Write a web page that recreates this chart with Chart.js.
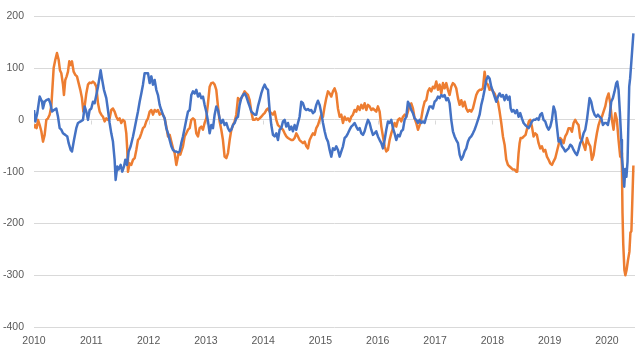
<!DOCTYPE html>
<html>
<head>
<meta charset="utf-8">
<script src="https://cdn.jsdelivr.net/npm/chart.js@4.4.1/dist/chart.umd.min.js"></script>
<style>
    body { margin: 0; background: #ffffff; }
    #chart { display: block; }
</style>
</head>
<body>
<canvas id="chart" width="640" height="360"></canvas>
<script>
// [decimal year, value]
const blueSeries = [
    [2010.000, 19], [2010.023, -3], [2010.058, 13], [2010.099, 45], [2010.140, 35], [2010.157, 22],
    [2010.186, 35], [2010.215, 38], [2010.256, 40], [2010.285, 32], [2010.314, 16], [2010.349, 19],
    [2010.389, 22], [2010.419, 6], [2010.448, -16], [2010.477, -19], [2010.506, -26], [2010.546, -29],
    [2010.581, -32], [2010.605, -45], [2010.640, -58], [2010.663, -61], [2010.698, -39], [2010.738, -16],
    [2010.768, -6], [2010.814, -3], [2010.855, 0], [2010.884, 26], [2010.913, 16], [2010.942, 0],
    [2010.971, 19], [2011.000, 22], [2011.029, 35], [2011.058, 32], [2011.088, 48], [2011.117, 64],
    [2011.146, 84], [2011.163, 96], [2011.186, 80], [2011.221, 58], [2011.262, 42], [2011.291, 19],
    [2011.320, -6], [2011.349, -26], [2011.378, -42], [2011.407, -77], [2011.425, -116], [2011.454, -90],
    [2011.477, -96], [2011.512, -87], [2011.541, -100], [2011.571, -90], [2011.594, -77], [2011.623, -87],
    [2011.652, -61], [2011.687, -51], [2011.728, -32], [2011.757, -16], [2011.786, 0], [2011.815, 16],
    [2011.844, 35], [2011.873, 51], [2011.902, 68], [2011.931, 90], [2011.990, 90], [2012.019, 71],
    [2012.048, 84], [2012.077, 68], [2012.106, 77], [2012.135, 58], [2012.164, 48], [2012.193, 29],
    [2012.222, 19], [2012.251, 10], [2012.280, 3], [2012.309, -16], [2012.339, -26], [2012.368, -39],
    [2012.397, -51], [2012.426, -58], [2012.455, -61], [2012.484, -61], [2012.513, -63], [2012.542, -61],
    [2012.571, -45], [2012.600, -32], [2012.629, -16], [2012.658, 0], [2012.688, 16], [2012.717, 19],
    [2012.746, 48], [2012.775, 55], [2012.804, 51], [2012.833, 58], [2012.862, 45], [2012.891, 51],
    [2012.920, 42], [2012.949, 45], [2012.978, 29], [2013.007, 16], [2013.037, -3], [2013.066, -26],
    [2013.095, -10], [2013.124, -16], [2013.153, 10], [2013.182, 26], [2013.211, 19], [2013.240, 3],
    [2013.269, -6], [2013.298, 0], [2013.327, -10], [2013.357, -6], [2013.386, -16], [2013.415, -22],
    [2013.444, -19], [2013.473, -10], [2013.502, -6], [2013.531, 3], [2013.560, 6], [2013.589, 29],
    [2013.618, 42], [2013.647, 48], [2013.676, 51], [2013.706, 45], [2013.735, 35], [2013.764, 26],
    [2013.793, 16], [2013.822, 13], [2013.851, 10], [2013.880, 10], [2013.909, 26], [2013.938, 38],
    [2013.967, 51], [2013.996, 61], [2014.025, 68], [2014.055, 61], [2014.084, 58], [2014.113, 19],
    [2014.142, -10], [2014.171, -29], [2014.200, -32], [2014.229, -26], [2014.258, -39], [2014.287, -19],
    [2014.316, -16], [2014.346, -3], [2014.375, 0], [2014.404, -13], [2014.433, -6], [2014.462, -19],
    [2014.491, -13], [2014.520, -22], [2014.549, -10], [2014.578, -19], [2014.607, -6], [2014.636, 6],
    [2014.665, 35], [2014.695, 32], [2014.724, 22], [2014.753, 19], [2014.782, 21], [2014.811, 18],
    [2014.840, 19], [2014.869, 13], [2014.898, 16], [2014.927, 29], [2014.956, 37], [2014.985, 29],
    [2015.015, 13], [2015.044, -6], [2015.073, -22], [2015.102, -35], [2015.131, -42], [2015.160, -58],
    [2015.189, -71], [2015.218, -55], [2015.247, -58], [2015.276, -51], [2015.305, -58], [2015.335, -71],
    [2015.364, -61], [2015.393, -51], [2015.422, -35], [2015.451, -32], [2015.480, -26], [2015.509, -19],
    [2015.538, -13], [2015.567, -10], [2015.596, -6], [2015.625, -13], [2015.654, -19], [2015.684, -16],
    [2015.713, -26], [2015.742, -29], [2015.771, -22], [2015.800, -10], [2015.829, 0], [2015.858, -6],
    [2015.887, -19], [2015.916, -29], [2015.945, -26], [2015.974, -22], [2016.003, -32], [2016.033, -39],
    [2016.062, -45], [2016.091, -55], [2016.120, -39], [2016.149, -19], [2016.178, -3], [2016.207, -6],
    [2016.236, 0], [2016.265, -16], [2016.294, -26], [2016.323, -39], [2016.353, -29], [2016.382, -32],
    [2016.411, -22], [2016.440, -19], [2016.469, 0], [2016.498, 6], [2016.527, 35], [2016.556, 29],
    [2016.585, 19], [2016.614, 13], [2016.643, 3], [2016.672, 0], [2016.702, -6], [2016.731, 0],
    [2016.760, -6], [2016.789, -3], [2016.818, -6], [2016.847, 6], [2016.876, 16], [2016.905, 26],
    [2016.934, 26], [2016.963, 22], [2016.992, 35], [2017.021, 38], [2017.051, 45], [2017.080, 42],
    [2017.109, 48], [2017.138, 45], [2017.167, 48], [2017.196, 38], [2017.225, 42], [2017.254, 32],
    [2017.283, 0], [2017.312, -22], [2017.341, -32], [2017.370, -39], [2017.400, -45], [2017.429, -67],
    [2017.458, -77], [2017.487, -71], [2017.516, -61], [2017.545, -55], [2017.574, -42], [2017.603, -35],
    [2017.632, -32], [2017.661, -26], [2017.690, -19], [2017.719, -10], [2017.749, 0], [2017.778, 10],
    [2017.807, 29], [2017.836, 42], [2017.865, 58], [2017.894, 77], [2017.923, 84], [2017.952, 80],
    [2017.981, 64], [2018.010, 55], [2018.039, 45], [2018.068, 35], [2018.098, 45], [2018.127, 51],
    [2018.156, 45], [2018.185, 48], [2018.214, 38], [2018.243, 48], [2018.272, 39], [2018.301, 45],
    [2018.319, 23], [2018.342, 16], [2018.371, 19], [2018.400, 13], [2018.429, 19], [2018.458, 6],
    [2018.487, 13], [2018.516, 3], [2018.545, -6], [2018.574, -10], [2018.604, -13], [2018.633, -16],
    [2018.662, -10], [2018.691, -3], [2018.720, 0], [2018.749, 0], [2018.778, 3], [2018.807, 0],
    [2018.836, 10], [2018.865, 13], [2018.894, 0], [2018.923, -3], [2018.953, -13], [2018.982, -19],
    [2019.011, -13], [2019.040, 0], [2019.069, 26], [2019.098, 16], [2019.127, -13], [2019.156, -42],
    [2019.185, -39], [2019.214, -51], [2019.243, -55], [2019.272, -61], [2019.302, -58], [2019.331, -55],
    [2019.360, -48], [2019.389, -51], [2019.418, -58], [2019.447, -64], [2019.476, -68], [2019.505, -58],
    [2019.534, -45], [2019.563, -39], [2019.592, -26], [2019.622, -19], [2019.651, 0], [2019.680, 26],
    [2019.697, 42], [2019.726, 35], [2019.755, 19], [2019.784, 10], [2019.814, 6], [2019.843, 10],
    [2019.872, 6], [2019.901, 3], [2019.930, -10], [2019.959, -6], [2019.988, -6], [2020.017, -10],
    [2020.046, 6], [2020.075, 35], [2020.104, 42], [2020.133, 55], [2020.163, 71], [2020.180, 74],
    [2020.203, 58], [2020.227, 13], [2020.250, -39], [2020.262, -70], [2020.302, -129], [2020.320, -95],
    [2020.340, -110], [2020.360, -80], [2020.389, 64], [2020.405, 80], [2020.425, 110], [2020.462, 167]
];

const orangeSeries = [
    [2010.000, -16], [2010.023, -10], [2010.046, -16], [2010.070, 0], [2010.099, -10], [2010.128, -22],
    [2010.157, -42], [2010.186, -29], [2010.215, 0], [2010.244, 3], [2010.273, 10], [2010.302, 26],
    [2010.320, 58], [2010.343, 100], [2010.372, 116], [2010.401, 129], [2010.430, 116], [2010.453, 96],
    [2010.477, 90], [2010.506, 68], [2010.523, 48], [2010.546, 77], [2010.570, 84], [2010.593, 93],
    [2010.616, 113], [2010.640, 106], [2010.663, 113], [2010.692, 93], [2010.721, 87], [2010.750, 84],
    [2010.779, 71], [2010.808, 58], [2010.837, 42], [2010.861, 16], [2010.884, 26], [2010.913, 51],
    [2010.942, 68], [2010.971, 72], [2011.000, 71], [2011.029, 74], [2011.058, 71], [2011.088, 64],
    [2011.117, 32], [2011.146, 16], [2011.175, 10], [2011.204, 6], [2011.233, -3], [2011.262, 3],
    [2011.291, 0], [2011.320, 3], [2011.349, 19], [2011.378, 22], [2011.407, 16], [2011.437, 6],
    [2011.466, 0], [2011.495, 3], [2011.524, -6], [2011.553, 0], [2011.582, -3], [2011.611, -26],
    [2011.628, -58], [2011.640, -100], [2011.669, -84], [2011.698, -87], [2011.728, -77], [2011.757, -74],
    [2011.786, -58], [2011.815, -39], [2011.844, -35], [2011.873, -26], [2011.902, -16], [2011.931, -13],
    [2011.960, -3], [2011.990, 3], [2012.019, 16], [2012.048, 19], [2012.077, 10], [2012.106, 19],
    [2012.135, 16], [2012.164, 19], [2012.193, 10], [2012.222, 13], [2012.251, 10], [2012.280, 3],
    [2012.309, -13], [2012.339, -32], [2012.368, -29], [2012.397, -42], [2012.426, -55], [2012.455, -64],
    [2012.484, -87], [2012.502, -77], [2012.525, -64], [2012.554, -67], [2012.571, -61], [2012.600, -51],
    [2012.629, -32], [2012.658, -26], [2012.688, -19], [2012.717, -16], [2012.746, 0], [2012.775, 3],
    [2012.804, 0], [2012.833, -26], [2012.862, -32], [2012.891, -16], [2012.920, -13], [2012.949, -19],
    [2012.978, -6], [2013.007, 3], [2013.037, 32], [2013.066, 64], [2013.095, 71], [2013.124, 72],
    [2013.153, 68], [2013.182, 58], [2013.211, 26], [2013.240, -3], [2013.269, -19], [2013.298, -39],
    [2013.327, -71], [2013.357, -74], [2013.386, -64], [2013.415, -39], [2013.444, -19], [2013.473, -10],
    [2013.502, -3], [2013.531, 10], [2013.560, 42], [2013.589, 38], [2013.618, 42], [2013.647, 48],
    [2013.676, 55], [2013.706, 51], [2013.735, 48], [2013.764, 38], [2013.793, 16], [2013.822, 0],
    [2013.851, 0], [2013.880, 3], [2013.909, 0], [2013.938, 3], [2013.967, 6], [2013.996, 10],
    [2014.025, 13], [2014.055, 19], [2014.084, 22], [2014.113, 16], [2014.142, 13], [2014.171, 10],
    [2014.200, 16], [2014.229, 0], [2014.258, -10], [2014.287, -13], [2014.316, -16], [2014.346, -19],
    [2014.375, -26], [2014.404, -32], [2014.433, -35], [2014.462, -37], [2014.491, -39], [2014.520, -39],
    [2014.549, -35], [2014.578, -26], [2014.607, -32], [2014.636, -39], [2014.665, -42], [2014.695, -45],
    [2014.724, -42], [2014.753, -51], [2014.782, -55], [2014.811, -39], [2014.840, -32], [2014.869, -26],
    [2014.898, -29], [2014.927, -16], [2014.956, -10], [2014.985, 0], [2015.015, 10], [2015.044, 6],
    [2015.073, 26], [2015.102, 42], [2015.131, 55], [2015.160, 51], [2015.189, 45], [2015.218, 55],
    [2015.247, 61], [2015.276, 51], [2015.305, 22], [2015.335, 6], [2015.364, 10], [2015.393, -6],
    [2015.422, 6], [2015.451, 0], [2015.480, 3], [2015.509, -3], [2015.538, 6], [2015.567, 10],
    [2015.596, 19], [2015.625, 16], [2015.654, 26], [2015.684, 19], [2015.713, 29], [2015.742, 22],
    [2015.771, 32], [2015.800, 19], [2015.829, 29], [2015.858, 26], [2015.887, 19], [2015.916, 22],
    [2015.945, 19], [2015.974, 16], [2016.003, 26], [2016.033, 16], [2016.062, -13], [2016.091, -32],
    [2016.120, -51], [2016.149, -61], [2016.178, -58], [2016.207, -39], [2016.236, -26], [2016.265, -16],
    [2016.294, -6], [2016.323, -13], [2016.353, 0], [2016.382, 3], [2016.411, -3], [2016.440, 6],
    [2016.469, 10], [2016.498, 6], [2016.527, 16], [2016.556, 29], [2016.585, 32], [2016.614, 22],
    [2016.643, 3], [2016.672, -6], [2016.702, -19], [2016.731, -10], [2016.760, 3], [2016.789, 22],
    [2016.818, 35], [2016.847, 38], [2016.876, 55], [2016.905, 61], [2016.934, 55], [2016.963, 64],
    [2016.992, 61], [2017.021, 74], [2017.051, 58], [2017.080, 68], [2017.109, 51], [2017.138, 71],
    [2017.167, 61], [2017.196, 71], [2017.225, 58], [2017.254, 48], [2017.283, 64], [2017.312, 71],
    [2017.341, 68], [2017.370, 61], [2017.400, 42], [2017.429, 29], [2017.458, 38], [2017.487, 26],
    [2017.516, 35], [2017.545, 22], [2017.574, 16], [2017.603, 19], [2017.632, 16], [2017.661, 22],
    [2017.690, 35], [2017.719, 48], [2017.749, 55], [2017.778, 58], [2017.807, 58], [2017.836, 61],
    [2017.865, 93], [2017.894, 71], [2017.923, 68], [2017.952, 58], [2017.981, 61], [2018.010, 55],
    [2018.039, 51], [2018.068, 42], [2018.098, 35], [2018.127, 16], [2018.156, -6], [2018.185, -32],
    [2018.214, -48], [2018.243, -77], [2018.272, -87], [2018.301, -90], [2018.330, -93], [2018.359, -96],
    [2018.388, -96], [2018.417, -100], [2018.435, -100], [2018.458, -64], [2018.476, -45], [2018.493, -35],
    [2018.522, -35], [2018.551, -32], [2018.580, -29], [2018.609, -16], [2018.638, -3], [2018.662, 0],
    [2018.691, -13], [2018.720, -32], [2018.749, -26], [2018.778, -29], [2018.807, -45], [2018.836, -55],
    [2018.865, -51], [2018.894, -61], [2018.923, -58], [2018.953, -71], [2018.982, -77], [2019.011, -84],
    [2019.040, -87], [2019.069, -80], [2019.098, -74], [2019.127, -61], [2019.156, -48], [2019.185, -35],
    [2019.214, -39], [2019.243, -45], [2019.272, -32], [2019.302, -26], [2019.331, -16], [2019.360, -16],
    [2019.389, -23], [2019.418, -6], [2019.447, 0], [2019.476, -6], [2019.505, -10], [2019.534, -35],
    [2019.563, -39], [2019.592, -48], [2019.622, -58], [2019.651, -35], [2019.680, -45], [2019.709, -51],
    [2019.738, -77], [2019.767, -68], [2019.796, -45], [2019.825, -26], [2019.854, -10], [2019.883, 0],
    [2019.912, 6], [2019.941, 16], [2019.971, 26], [2020.000, 42], [2020.029, 51], [2020.058, 32],
    [2020.087, 0], [2020.116, -19], [2020.145, 13], [2020.174, 0], [2020.203, -39], [2020.232, -71],
    [2020.250, -64], [2020.262, -90], [2020.272, -180], [2020.285, -240], [2020.305, -290], [2020.322, -300],
    [2020.343, -290], [2020.366, -272], [2020.392, -255], [2020.410, -218], [2020.427, -215], [2020.445, -150],
    [2020.462, -88]
];

const yearTicks = [2010, 2011, 2012, 2013, 2014, 2015, 2016, 2017, 2018, 2019, 2020];
const yTicks = [-400, -300, -200, -100, 0, 100, 200];

const toPoints = (series) => series.map(([x, y]) => ({ x: x, y: y }));

const labelFont = { family: "'Liberation Sans', Arial, sans-serif", size: 10.5 };
const labelColor = '#595959';
const gridColor = '#d9d9d9';

// small tick marks on the zero line, one per year
const zeroTicks = {
    id: 'zeroTicks',
    beforeDatasetsDraw(chart) {
        const ctx = chart.ctx;
        const xScale = chart.scales.x;
        const y0 = Math.round(chart.scales.y.getPixelForValue(0)) + 0.5;
        ctx.save();
        ctx.strokeStyle = gridColor;
        ctx.lineWidth = 1;
        ctx.beginPath();
        yearTicks.forEach(year => {
            const px = Math.round(xScale.getPixelForValue(year)) + 0.5;
            ctx.moveTo(px, y0);
            ctx.lineTo(px, y0 + 4);
        });
        ctx.stroke();
        ctx.restore();
    }
};

const ctx = document.getElementById('chart').getContext('2d');
const chart = new Chart(ctx, {
    type: 'line',
    data: {
        datasets: [
            {
                label: 'Series 1',
                data: toPoints(blueSeries),
                borderColor: '#4472C4',
                borderWidth: 2.5,
                pointRadius: 0,
                tension: 0,
                borderJoinStyle: 'round',
                fill: false
            },
            {
                label: 'Series 2',
                data: toPoints(orangeSeries),
                borderColor: '#ED7D31',
                borderWidth: 2.5,
                pointRadius: 0,
                tension: 0,
                borderJoinStyle: 'round',
                fill: false
            }
        ]
    },
    options: {
        responsive: false,
        animation: false,
        devicePixelRatio: 1,
        layout: { padding: { top: 16, right: 5, left: 0, bottom: 0 } },
        plugins: {
            legend: { display: false },
            tooltip: { enabled: false },
            title: { display: false }
        },
        scales: {
            x: {
                type: 'linear',
                min: 2010,
                max: 2020.49,
                afterFit: (scale) => { scale.height = 33; },
                afterBuildTicks: (scale) => { scale.ticks = yearTicks.map(v => ({ value: v })); },
                ticks: {
                    autoSkip: false,
                    maxRotation: 0,
                    padding: 8,
                    color: labelColor,
                    font: labelFont,
                    callback: (v) => String(v)
                },
                grid: { display: false, drawTicks: false },
                border: { display: false }
            },
            y: {
                min: -400,
                max: 200,
                afterFit: (scale) => { scale.width = 34; },
                afterBuildTicks: (scale) => { scale.ticks = yTicks.map(v => ({ value: v })); },
                ticks: {
                    padding: 10,
                    color: labelColor,
                    font: labelFont
                },
                grid: { color: gridColor, lineWidth: 1, drawTicks: false },
                border: { display: false }
            }
        }
    },
    plugins: [zeroTicks]
});
</script>
</body>
</html>
